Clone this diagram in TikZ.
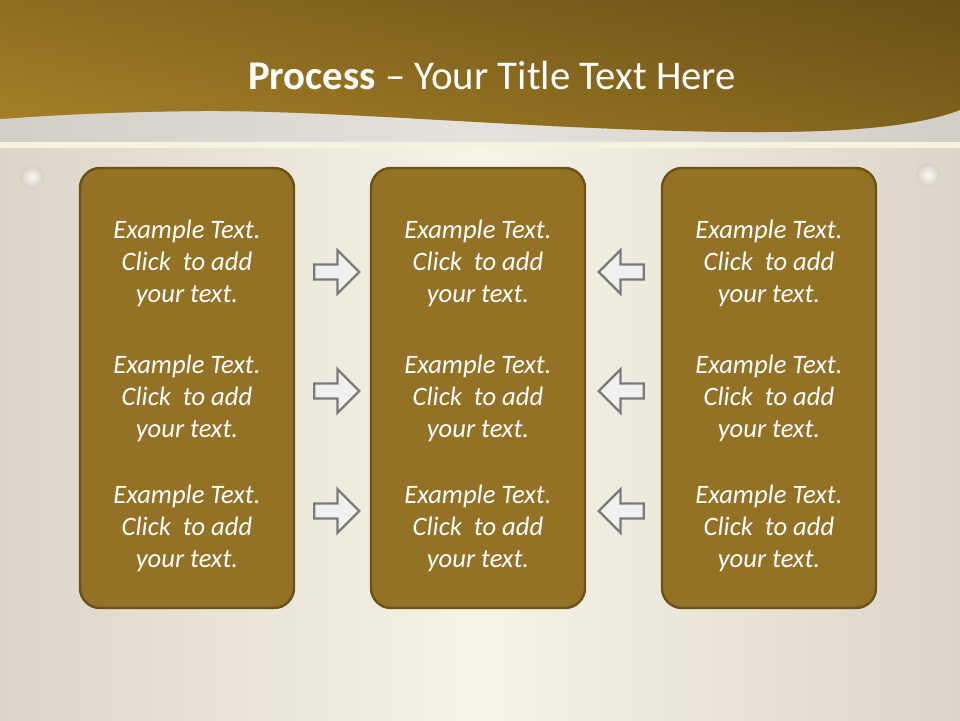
\documentclass[tikz,border=0pt]{standalone}
\usepackage{fontspec}
\setmainfont{Carlito}
\usetikzlibrary{shapes.arrows}

\definecolor{goldlight}{HTML}{B38B2B}
\definecolor{golddark}{HTML}{6A5018}
\definecolor{goldtop}{HTML}{6A5017}
\definecolor{goldbot}{HTML}{9A7724}
\definecolor{bandgray}{HTML}{D3CEC5}
\definecolor{bandline}{HTML}{F6F2E2}
\definecolor{bgside}{HTML}{DCD5C9}
\definecolor{bgmid}{HTML}{F7F3E7}
\definecolor{boxfill}{HTML}{937226}
\definecolor{boxline}{HTML}{6A5119}
\definecolor{arrfill}{HTML}{F0F0F0}
\definecolor{arrline}{HTML}{7A7A7A}
\definecolor{stud}{HTML}{D6CFBF}

\begin{document}
\begin{tikzpicture}[x=0.5pt,y=-0.5pt,
  box/.style={draw=boxline, line width=1.2pt, fill=boxfill, rounded corners=10pt,
    minimum width=107pt, minimum height=220pt},
  txt/.style={text=white, align=center, font=\fontsize{13.3}{16}\selectfont\itshape},
  rarrow/.style={single arrow, draw=arrline, fill=arrfill, line width=1.2pt,
    inner xsep=0pt, inner ysep=3.15pt, minimum width=17pt, minimum height=22.5pt,
    single arrow head indent=0pt},
  larrow/.style={rarrow, shape border rotate=180}]

\useasboundingbox (0,0) rectangle (960,720);

% Hintergrund
\shade[left color=bgside, right color=bgside, middle color=bgmid] (0,0) rectangle (960,720);
\shade[left color=bandgray, right color=bandgray, middle color=bandgray!60!white] (0,0) rectangle (960,142);
\fill[bandline] (0,142) rectangle (960,148);

% Titelband
\def\band{(0,0) -- (960,0) -- (960,110) .. controls (920,125) and (860,132) .. (760,132)
  .. controls (560,132) and (350,110) .. (200,111) .. controls (100,112) and (40,116) .. (0,119) -- cycle}
\shade[top color=goldtop, bottom color=goldbot] \band;
\shade[left color=goldlight, right color=golddark, opacity=0.5] \band;

% Knoepfe
\shade[inner color=white!85!stud, outer color=stud] (32,177) circle (12);
\shade[inner color=white!85!stud, outer color=stud] (928,175) circle (12);

% Titel
\node[text=white, font=\fontsize{20.4}{24}\selectfont] (title) at (492,75)
  {\textbf{Process} -- Your Title Text Here};

% Kaesten
\node[box] (left) at (187,388) {};
\node[box] (mid) at (478,388) {};
\node[box] (right) at (769,388) {};

% Texte
\node[txt] (l1) at (187,263) {Example Text.\\Click\ \ to add\\your text.};
\node[txt] (l2) at (187,398) {Example Text.\\Click\ \ to add\\your text.};
\node[txt] (l3) at (187,528) {Example Text.\\Click\ \ to add\\your text.};
\node[txt] (m1) at (478,263) {Example Text.\\Click\ \ to add\\your text.};
\node[txt] (m2) at (478,398) {Example Text.\\Click\ \ to add\\your text.};
\node[txt] (m3) at (478,528) {Example Text.\\Click\ \ to add\\your text.};
\node[txt] (r1) at (769,263) {Example Text.\\Click\ \ to add\\your text.};
\node[txt] (r2) at (769,398) {Example Text.\\Click\ \ to add\\your text.};
\node[txt] (r3) at (769,528) {Example Text.\\Click\ \ to add\\your text.};

% Pfeile
\node[rarrow] (a1) at (333,272) {};
\node[rarrow] (a2) at (333,391) {};
\node[rarrow] (a3) at (333,511) {};
\node[larrow] (b1) at (625,272) {};
\node[larrow] (b2) at (625,391) {};
\node[larrow] (b3) at (625,511) {};

\end{tikzpicture}
\end{document}
